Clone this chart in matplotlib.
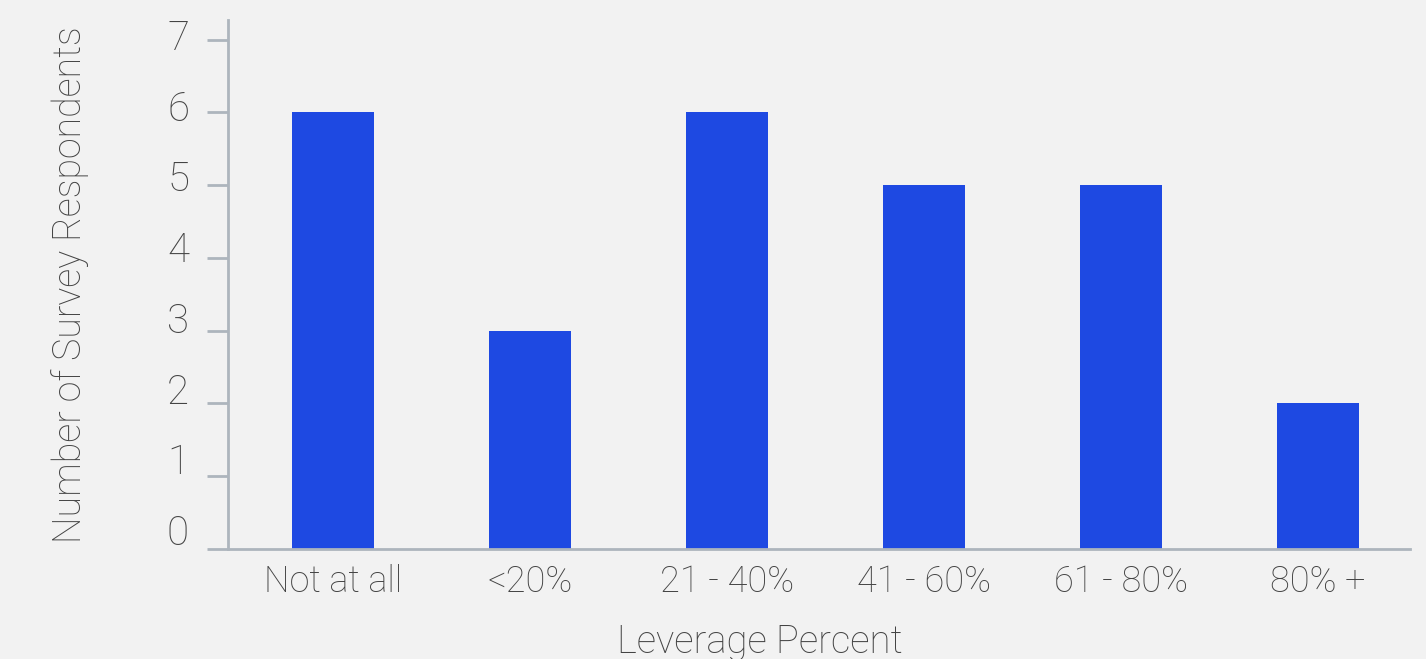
import matplotlib
matplotlib.use("Agg")
import matplotlib.pyplot as plt
import matplotlib.transforms as mtransforms

categories = ["Not at all", "<20%", "21 - 40%", "41 - 60%", "61 - 80%", "80% +"]
respondents = [6, 3, 6, 5, 5, 2]
y_ticks = [0, 1, 2, 3, 4, 5, 6, 7]

BG = "#f2f2f2"
BAR = "#1e49e2"
AXIS = "#adb5bd"
TXT = "#444444"

plt.rcParams['font.family'] = ['Roboto', 'DejaVu Sans']
plt.rcParams['font.weight'] = 'light'
plt.rcParams['axes.labelweight'] = 'light'

fig = plt.figure(figsize=(14.26, 6.59), dpi=100, facecolor=BG)
ax = fig.add_axes([228/1426, 1 - 549/659, (1410-228)/1426, (549-20)/659])
ax.set_facecolor(BG)

x = list(range(len(categories)))
ax.bar(x, respondents, width=0.42, color=BAR, zorder=2)

ax.set_xlim(-0.533, 5.467)
ax.set_ylim(0, 7.27)
ax.set_xticks(x)
ax.set_xticklabels(categories)
ax.set_yticks(y_ticks)
ax.set_yticklabels([str(v) for v in y_ticks])

for s in ["top", "right"]:
    ax.spines[s].set_visible(False)
for s in ["left", "bottom"]:
    ax.spines[s].set_color(AXIS)
    ax.spines[s].set_linewidth(2.0)

ax.tick_params(axis='y', length=15, width=2.0, color=AXIS, pad=13,
               labelsize=29, labelcolor=TXT)
ax.tick_params(axis='x', length=0, pad=11, labelsize=26, labelcolor=TXT)

for v, lbl in zip(y_ticks, ax.get_yticklabels()):
    up = (19 - 2.0 * v) / 100
    lbl.set_transform(lbl.get_transform() +
                      mtransforms.ScaledTranslation(0, up, fig.dpi_scale_trans))

ax.set_ylabel("Number of Survey Respondents", fontsize=27, color=TXT)
ax.yaxis.set_label_coords(-(228-70)/1182, 0.5)
ax.set_xlabel("Leverage Percent", fontsize=27.5, color=TXT)
ax.xaxis.set_label_coords((760-228)/1182, -(642-549)/529)
ax.xaxis.label.set_verticalalignment('center')
ax.yaxis.label.set_verticalalignment('center')

fig.savefig("out.png", dpi=100, facecolor=BG)
